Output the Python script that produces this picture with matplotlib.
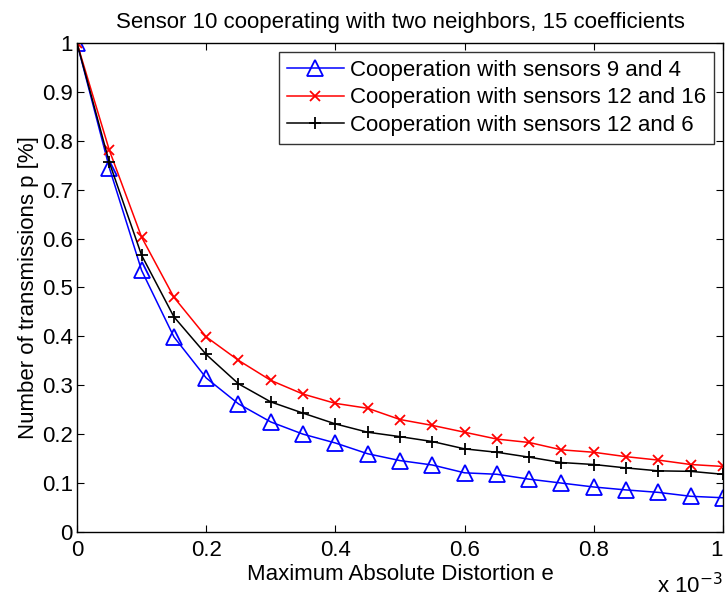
import matplotlib
matplotlib.use('Agg')
import matplotlib.pyplot as plt
from matplotlib.ticker import FuncFormatter

plt.rcParams['font.family'] = ['Liberation Sans', 'DejaVu Sans']

# distortion e (in units of 1e-3)
e = [0, 0.05, 0.1, 0.15, 0.2, 0.25, 0.3, 0.35, 0.4, 0.45, 0.5,
     0.55, 0.6, 0.65, 0.7, 0.75, 0.8, 0.85, 0.9, 0.95, 1.0]
p_9_4 = [1, 0.745, 0.535, 0.399, 0.315, 0.262, 0.225, 0.200, 0.182, 0.160, 0.146,
         0.137, 0.121, 0.118, 0.108, 0.100, 0.092, 0.086, 0.081, 0.073, 0.070]
p_12_16 = [1, 0.781, 0.603, 0.480, 0.399, 0.351, 0.310, 0.282, 0.263, 0.253, 0.230,
           0.218, 0.204, 0.190, 0.183, 0.168, 0.163, 0.154, 0.147, 0.138, 0.134]
p_12_6 = [1, 0.756, 0.566, 0.440, 0.363, 0.303, 0.266, 0.243, 0.221, 0.204, 0.195,
          0.185, 0.170, 0.163, 0.153, 0.142, 0.138, 0.131, 0.125, 0.124, 0.118]
labels = ['Cooperation with sensors 9 and 4',
          'Cooperation with sensors 12 and 16',
          'Cooperation with sensors 12 and 6']

x = [v * 1e-3 for v in e]

fig = plt.figure(figsize=(7.27, 5.97), dpi=100)
ax = fig.add_axes([0.1059, 0.1089, 0.8886, 0.8191])

ax.plot(x, p_9_4, color='blue', marker='^', markersize=11, markerfacecolor='none',
        markeredgewidth=1.3, linewidth=1.1, label=labels[0])
ax.plot(x, p_12_16, color='red', marker='x', markersize=7,
        markeredgewidth=1.3, linewidth=1.1, label=labels[1])
ax.plot(x, p_12_6, color='black', marker='+', markersize=9,
        markeredgewidth=1.3, linewidth=1.1, label=labels[2])

ax.set_xlim(0, 1e-3)
ax.set_ylim(0, 1)
ax.set_xticks([i * 0.2e-3 for i in range(6)])
ax.set_yticks([i * 0.1 for i in range(11)])
ax.xaxis.set_major_formatter(FuncFormatter(lambda v, pos: '%g' % round(v * 1e3, 3)))
ax.yaxis.set_major_formatter(FuncFormatter(lambda v, pos: '%g' % round(v, 3)))
ax.tick_params(direction='in', top=True, right=True, length=5, labelsize=16)
ax.tick_params(axis='x', pad=6)
ax.tick_params(axis='y', pad=3)
for s in ax.spines.values():
    s.set_linewidth(1.0)
# keep the last x label inside the figure edge
fig.canvas.draw()
ax.get_xticklabels()[-1].set_horizontalalignment('right')

ax.set_xlabel('Maximum Absolute Distortion e', fontsize=16, labelpad=2)
ax.set_ylabel('Number of transmissions p [%]', fontsize=16, labelpad=2)
ax.set_title('Sensor 10 cooperating with two neighbors, 15 coefficients', fontsize=16, pad=11)
fig.text(723 / 727, 4 / 597, r'x 10$^{-3}$', fontsize=16, ha='right', va='baseline')

leg = ax.legend(loc='upper right', fontsize=16, handlelength=2.55, frameon=True,
                fancybox=False, borderpad=0.35, labelspacing=0.3, handletextpad=0.3,
                borderaxespad=0.4)
leg.get_frame().set_edgecolor('black')
leg.get_frame().set_linewidth(1.0)

fig.savefig('out.png', dpi=100)
